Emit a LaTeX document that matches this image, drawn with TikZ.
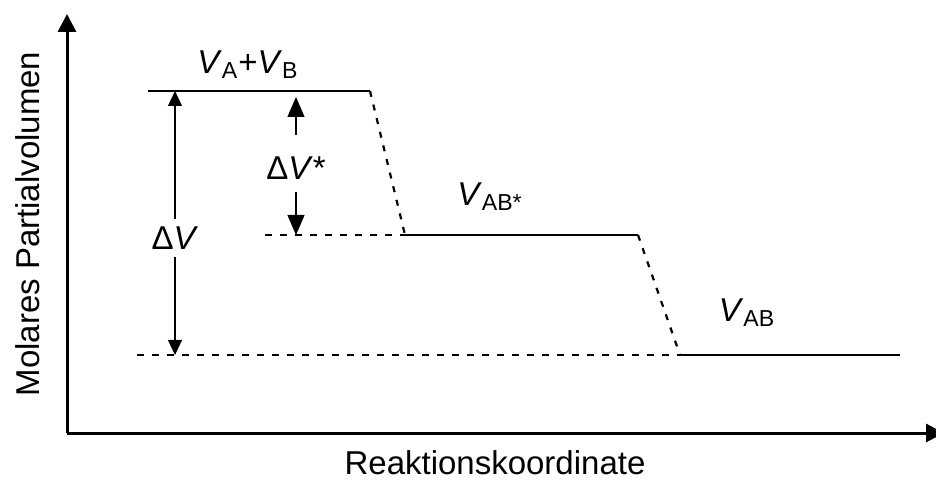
\documentclass[tikz,border=0pt]{standalone}
\usepackage{fontspec}
\setmainfont{Liberation Sans}
\usetikzlibrary{arrows.meta}
\newcommand{\subs}[1]{\textsubscript{#1}}
\tikzset{
  axis/.style={line width=1.5pt,-{Triangle[length=9pt,width=9pt]}},
  level/.style={line width=1.4pt},
  dashlevel/.style={line width=1.4pt,dash pattern=on 3.5pt off 4pt},
  trans/.style={line width=1.1pt,dash pattern=on 3pt off 4pt},
  dimarrow/.style={line width=0.6pt,{Triangle[length=7.5pt,width=7pt]}-{Triangle[length=7.5pt,width=7pt]}},
  halfarrow/.style={line width=0.6pt,-{Triangle[length=10pt,width=8.5pt]}},
  lbl/.style={font=\fontsize{16.5pt}{19pt}\selectfont,inner sep=1pt},
}
\begin{document}
\begin{tikzpicture}[x=0.5pt,y=-0.5pt]
\useasboundingbox (0,0) rectangle (936,480);
% axes
\coordinate (O) at (67,433);
\coordinate (ytop) at (67,14);
\coordinate (xend) at (944,433);
\draw[axis] (O) -- (ytop);
\draw[axis] (O) -- (xend);
% level coordinates
\coordinate (t1) at (148,91);
\coordinate (t2) at (370,91);
\coordinate (m0) at (265,235);
\coordinate (m1) at (405,235);
\coordinate (m2) at (638,235);
\coordinate (b0) at (137,355);
\coordinate (b1) at (680,355);
\coordinate (b2) at (900,355);
% levels
\draw[level] (t1) -- (t2);
\draw[level] (m1) -- (m2);
\draw[level] (b1) -- (b2);
\draw[dashlevel] (m0) -- (m1);
\draw[dashlevel] (b0) -- (b1);
\draw[trans] (t2) -- (m1);
\draw[trans] (m2) -- (b1);
% Delta V
\coordinate (dVt) at (175,91);
\coordinate (dVb) at (175,355);
\draw[dimarrow] (dVb) -- (dVt);
\node[lbl,fill=white,inner sep=4pt] (dV) at (175,238) {Δ\textit{V}};
% Delta V*
\node[lbl] (dVs) at (296,168) {Δ\textit{V}*};
\coordinate (dVst) at (296,97);
\coordinate (dVsb) at (296,235);
\coordinate (dVsn) at (296,135);
\coordinate (dVss) at (296,192);
\draw[halfarrow] (dVsn) -- (dVst);
\draw[halfarrow] (dVss) -- (dVsb);
% labels
\node[lbl] (VAB0) at (248,65) {\textit{V}\subs{A}+\textit{V}\subs{B}};
\node[lbl] (VABs) at (490,197) {\textit{V}\subs{AB*}};
\node[lbl] (VAB) at (747,313) {\textit{V}\subs{AB}};
\node[lbl] (xlab) at (495,463) {Reaktionskoordinate};
\node[lbl,rotate=90] (ylab) at (28,224) {Molares Partialvolumen};
\end{tikzpicture}
\end{document}
